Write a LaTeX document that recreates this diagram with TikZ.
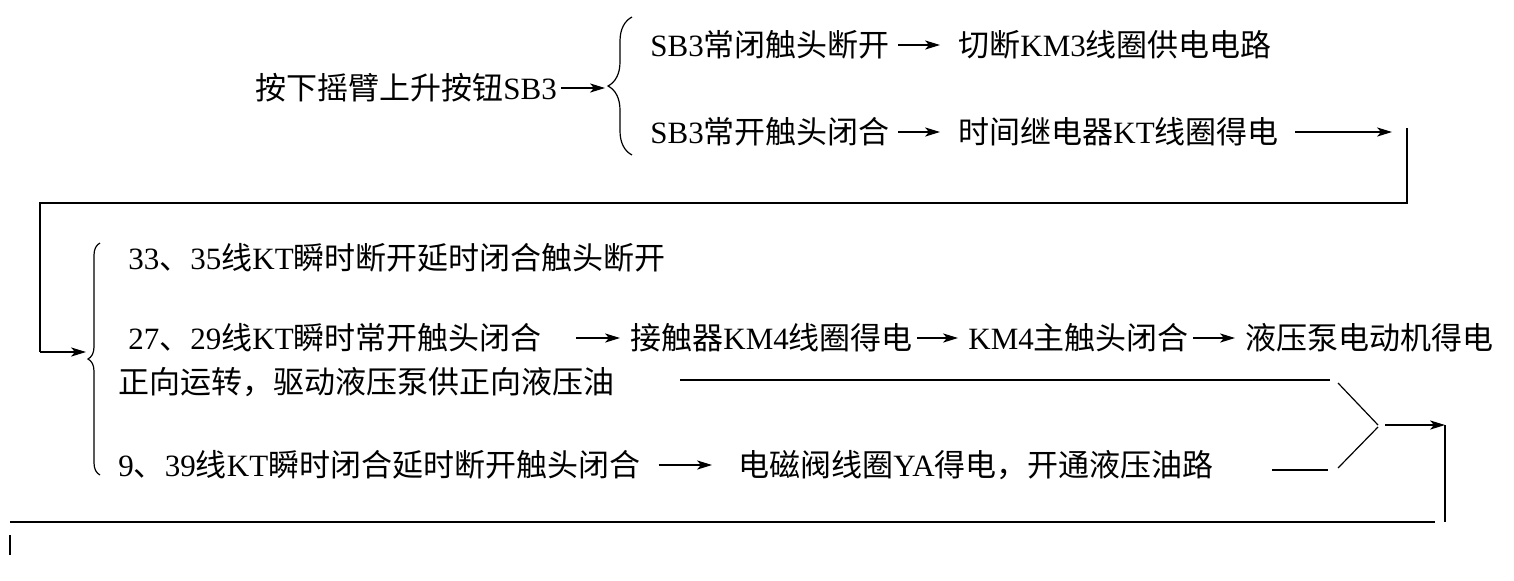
\documentclass[tikz,border=0pt]{standalone}
\usepackage{fontspec}
\setmainfont{Liberation Serif}
\newfontfamily\cjk{Noto Sans CJK SC}
\usetikzlibrary{arrows.meta,decorations.pathreplacing}

\begin{document}
\begin{tikzpicture}[x=0.5pt,y=-0.5pt,
  txt/.style={anchor=west,inner sep=0pt,font=\fontsize{15.5}{18}\selectfont},
  ln/.style={line width=0.6pt},
  arr/.style={line width=0.6pt,-{Stealth[length=7.5pt,width=4.6pt,inset=2pt]}},
  brc/.style={line width=0.6pt,decorate,decoration={brace,amplitude=#1}},
  brc/.default=6pt]
\useasboundingbox (0,0) rectangle (1514,580);
% first step
\node[txt] (press) at (255,88) {{\cjk 按下摇臂上升按钮}SB3};
\coordinate (b1tip) at (605,88);
\draw[brc=12pt] (632,155) -- (632,17);
\draw[arr,shorten <=2pt] (press.east) -- (b1tip);
\node[txt] (r1a) at (650,45) {SB3{\cjk 常闭触头断开}};
\node[txt] (r1b) at (958,45) {{\cjk 切断}KM3{\cjk 线圈供电电路}};
\node[txt] (r2a) at (650,132) {SB3{\cjk 常开触头闭合}};
\node[txt] (r2b) at (958,132) {{\cjk 时间继电器}KT{\cjk 线圈得电}};
\draw[arr,shorten <=4pt,shorten >=9pt] (r1a.east) -- (r1b.west);
\draw[arr,shorten <=4pt,shorten >=9pt] (r2a.east) -- (r2b.west);
\coordinate (kt) at (1392,132);
\draw[arr,shorten <=8pt] (r2b.east) -- (kt);
% return to second brace
\coordinate (t1) at (1407,128);
\coordinate (t2) at (1407,203);
\coordinate (t3) at (40,203);
\coordinate (t4) at (40,352);
\coordinate (b2tip) at (86,352);
\draw[ln] (t1) -- (t2) -- (t3) -- (t4);
\draw[arr] (t4) -- (b2tip);
\draw[brc=6pt] (100,475) -- (100,243);
% KT contacts
\node[txt] (s1) at (128,258) {33{\cjk 、}35{\cjk 线}KT{\cjk 瞬时断开延时闭合触头断开}};
\node[txt] (s2) at (128,338) {27{\cjk 、}29{\cjk 线}KT{\cjk 瞬时常开触头闭合}};
\node[txt] (s2b) at (630,338) {{\cjk 接触器}KM4{\cjk 线圈得电}};
\node[txt] (s2c) at (968,338) {KM4{\cjk 主触头闭合}};
\node[txt] (s2d) at (1245,338) {{\cjk 液压泵电动机得电}};
\node[txt] (s2e) at (118,382) {{\cjk 正向运转，驱动液压泵供正向液压油}};
\node[txt] (s3) at (118,465) {9{\cjk 、}39{\cjk 线}KT{\cjk 瞬时闭合延时断开触头闭合}};
\node[txt] (s3b) at (738,465) {{\cjk 电磁阀线圈}YA{\cjk 得电，开通液压油路}};
\draw[arr,shorten <=17pt,shorten >=5pt] (s2.east) -- (s2b.west);
\draw[arr,shorten <=2pt,shorten >=5pt] (s2b.east) -- (s2c.west);
\draw[arr,shorten <=2pt,shorten >=5pt] (s2c.east) -- (s2d.west);
\draw[arr,shorten <=9pt,shorten >=13pt] (s3.east) -- (s3b.west);
% merge
\coordinate (oil1) at (680,380);
\coordinate (oil2) at (1330,380);
\coordinate (ya1) at (1272,470);
\coordinate (ya2) at (1328,470);
\coordinate (m1) at (1338,383);
\coordinate (m2) at (1378,425);
\coordinate (m3) at (1338,468);
\coordinate (m4) at (1378,427);
\coordinate (m5) at (1385,425);
\coordinate (m6) at (1445,425);
\coordinate (m7) at (1445,522);
\draw[ln] (oil1) -- (oil2);
\draw[ln] (ya1) -- (ya2);
\draw[ln] (m1) -- (m2);
\draw[ln] (m3) -- (m4);
\draw[arr] (m5) -- (m6);
\draw[ln] (m6) -- (m7);
\coordinate (e1) at (1435,522);
\coordinate (e2) at (10,522);
\draw[ln] (e1) -- (e2);
\draw[ln] (10,535) -- (10,555);
\end{tikzpicture}
\end{document}
